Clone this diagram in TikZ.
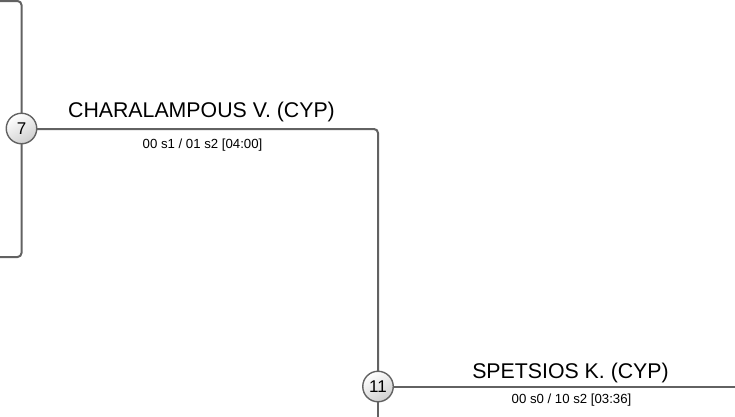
\documentclass[tikz,border=0pt]{standalone}
\usepackage{fontspec}
\setmainfont{Liberation Sans}
\definecolor{linegray}{HTML}{626262}
\definecolor{circfill}{HTML}{CFCFCF}
\tikzset{
  conn/.style={draw=linegray, line width=2pt, rounded corners=4pt},
  seed/.style={circle, draw=linegray, line width=1.4pt, minimum size=30.5pt, inner sep=0pt,
    top color=white, bottom color=circfill, shading angle=30, font=\fontsize{17}{17}\selectfont},
  player/.style={anchor=base, font=\fontsize{21.3}{21.3}\selectfont, text=black},
  score/.style={anchor=base, font=\fontsize{13.2}{13.2}\selectfont, text=black}
}
\begin{document}
\begin{tikzpicture}[x=1pt, y=-1pt]
\useasboundingbox (0,0) rectangle (735,416);
% free ends
\coordinate (bt) at (0,1);
\coordinate (bb) at (0,257);
\coordinate (k1) at (378,129);
\coordinate (re) at (736,387);
\coordinate (be) at (378,417);
% bracket lines
\draw[conn] (bt) -- (21.5,1) -- (21.5,257) -- (bb);
\draw[conn] (21.5,129) -- (k1) -- (378,387);
\draw[conn] (378,387) -- (re);
\draw[conn] (378,387) -- (be);
% seeds
\node[seed] (c7) at (21.5,128.5) {7};
\node[seed] (c11) at (378,386.5) {11};
% labels
\node[player] (n1) at (201.5,117) {CHARALAMPOUS V. (CYP)};
\node[score] (s1) at (202.5,148) {00 s1 / 01 s2 [04:00]};
\node[player] (n2) at (570.5,378) {SPETSIOS K. (CYP)};
\node[score] (s2) at (571.5,403) {00 s0 / 10 s2 [03:36]};
\end{tikzpicture}
\end{document}
